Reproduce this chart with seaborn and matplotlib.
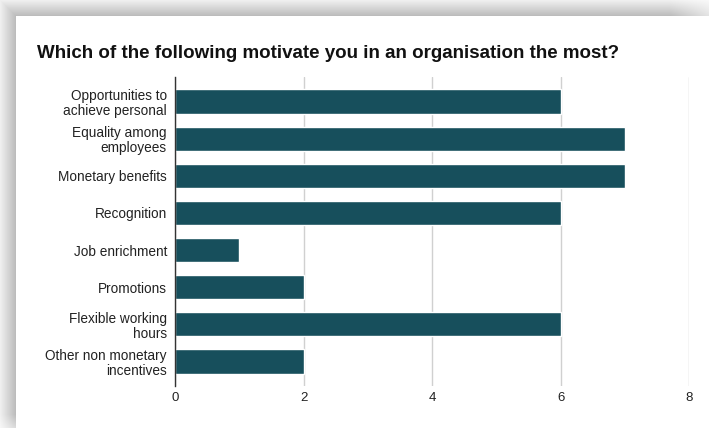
import numpy as np
import matplotlib
matplotlib.use("Agg")
import matplotlib.pyplot as plt
import seaborn as sns

# Survey responses: what motivates people most in an organisation
categories = [
    "Opportunities to\nachieve personal",
    "Equality among\nemployees",
    "Monetary benefits",
    "Recognition",
    "Job enrichment",
    "Promotions",
    "Flexible working\nhours",
    "Other non monetary\nincentives",
]
counts = [6, 7, 7, 6, 1, 2, 6, 2]
x_ticks = [0, 2, 4, 6, 8]
title = "Which of the following motivate you in an organisation the most?"

BAR_COLOR = "#174f5c"
TEXT_COLOR = "#222222"

sns.set_theme(style="white")
plt.rcParams["font.family"] = ["Liberation Sans", "DejaVu Sans"]

W, H, DPI = 709, 428, 100
fig = plt.figure(figsize=(W / DPI, H / DPI), dpi=DPI, facecolor="white")

# Soft drop-shadow frame along the top and left edges
img = np.ones((H, W, 3))
band = 16
shade = np.linspace(0.94, 0.74, band)
for i in range(band):
    img[i, i:, :] = np.minimum(img[i, i:, :], shade[i])
    img[i:, i, :] = np.minimum(img[i:, i, :], shade[i])
# fade the band out toward the right and bottom ends
fade_x = np.clip((np.arange(W) - (W - 40)) / 40.0, 0, 1)
img[:band] = img[:band] + (1 - img[:band]) * fade_x[None, :, None] * 0.6
fade_y = np.clip((np.arange(H) - (H - 14)) / 14.0, 0, 1)
img[:, :band] = img[:, :band] + (1 - img[:, :band]) * fade_y[:, None, None] * 0.5
fig.figimage(img, xo=0, yo=0, origin="upper", zorder=-10)

ax = fig.add_axes([175 / W, 1 - 386 / H, (689.3 - 175) / W, (386 - 77) / H])
ax.set_zorder(1)
ax.set_facecolor("white")

sns.barplot(x=counts, y=categories, orient="h", color=BAR_COLOR,
            width=0.65, saturation=1, ax=ax, zorder=3)

ax.set_xlim(0, 8)
ax.set_ylim(7.66, -0.66)
ax.set_xticks(x_ticks)
ax.set_xticklabels([str(t) for t in x_ticks])
ax.set_xlabel("")
ax.set_ylabel("")

ax.xaxis.grid(True, color="#d0d0d0", linewidth=1, zorder=0)
ax.yaxis.grid(False)
ax.set_axisbelow(True)
for side in ["top", "right", "bottom"]:
    ax.spines[side].set_visible(False)
ax.spines["left"].set_color("#333333")
ax.spines["left"].set_linewidth(1)
ax.spines["left"].set_zorder(4)

ax.tick_params(axis="x", length=0, labelsize=9.5, labelcolor=TEXT_COLOR, pad=4.5)
ax.tick_params(axis="y", length=0, labelsize=9.8, labelcolor=TEXT_COLOR, pad=5.8)
for lbl in ax.get_yticklabels():
    lbl.set_linespacing(1.1)
    lbl.set_horizontalalignment("right")

fig.text(37 / W, 1 - 57.5 / H, title, ha="left", va="baseline",
         fontsize=13.5, fontweight="bold", color="#111111", zorder=2)

fig.savefig("out.png", dpi=DPI, facecolor="white")
